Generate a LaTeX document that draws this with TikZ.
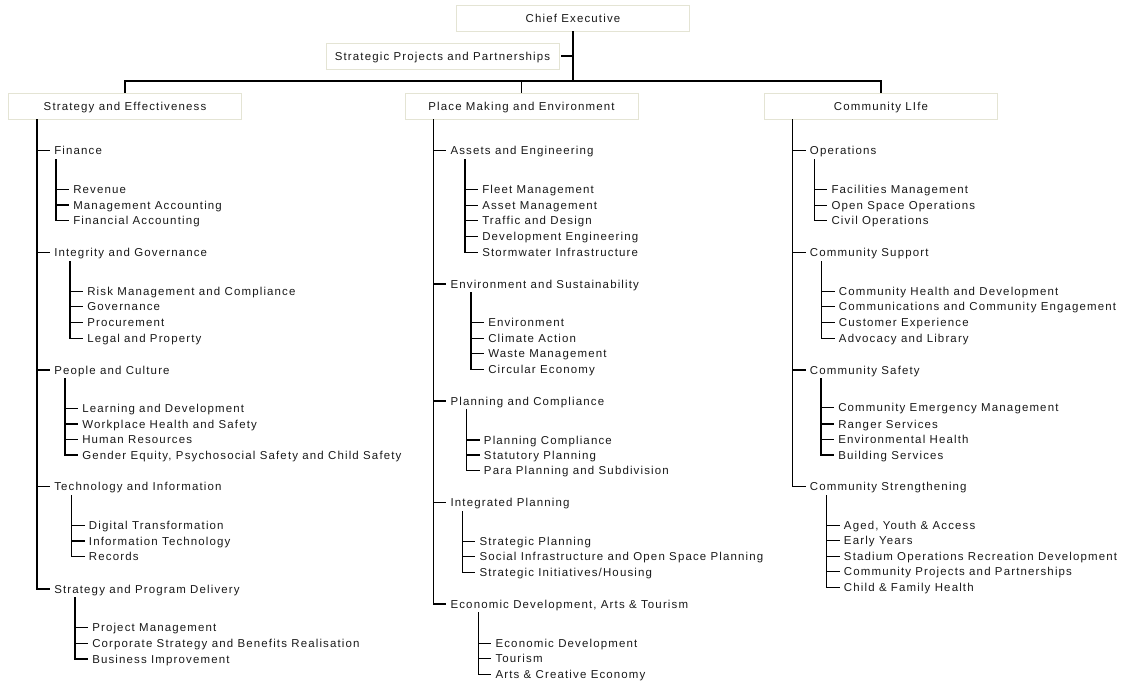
\documentclass[tikz,border=0pt]{standalone}
\usepackage{fontspec}
\usepackage{tikz}
\newfontfamily\orgfamily[LetterSpace=10]{Liberation Sans}
\newcommand{\orgfont}{\orgfamily\fontsize{8.6pt}{10pt}\selectfont}
\definecolor{boxline}{RGB}{228,228,212}
\definecolor{orgtext}{RGB}{25,25,25}
\tikzset{
	unitbox/.style={draw=boxline, line width=0.6pt, fill=white, minimum width=174.75pt, minimum height=19.5pt, inner sep=0pt, font=\orgfont, text=orgtext, text height=6.2pt, text depth=0pt},
	dept/.style={anchor=west, inner xsep=3pt, inner ysep=3pt, font=\orgfont, text=orgtext, text height=6.2pt, text depth=0pt},
	link/.style={line width=0.9pt}
}

\begin{document}
\begin{tikzpicture}[x=0.75pt,y=-0.75pt]
		\useasboundingbox (0,0) rectangle (1140,686);
		% Top of the chart
		\node[unitbox] (ce) at (573,18) {Chief Executive};
		\node[unitbox] (spp) at (442.5,56) {Strategic Projects and Partnerships};
		\node[unitbox] (se) at (125,106) {Strategy and Effectiveness};
		\node[unitbox] (pme) at (521.5,106) {Place Making and Environment};
		\node[unitbox] (cl) at (881,106) {Community LIfe};
		\coordinate (bar) at (573,81);
		\draw[link] (ce.south) -- (bar);
		\draw[link] ([xshift=1.5pt]spp.east) -- (spp.east -| bar);
		\draw[link] (se.north) |- (bar) -| (cl.north);
		\draw[link] (bar -| pme.north) -- (pme.north);
		% Strategy and Effectiveness
		\node[dept] (fin) at (50,150.7) {Finance};
		\node[dept] (fin1) at (69,189.3) {Revenue};
		\node[dept] (fin2) at (69,205) {Management Accounting};
		\node[dept] (fin3) at (69,220.7) {Financial Accounting};
		\node[dept] (ig) at (50,252.7) {Integrity and Governance};
		\node[dept] (ig1) at (83,291.5) {Risk Management and Compliance};
		\node[dept] (ig2) at (83,306.8) {Governance};
		\node[dept] (ig3) at (83,322.3) {Procurement};
		\node[dept] (ig4) at (83,338.3) {Legal and Property};
		\node[dept] (pc) at (50,370) {People and Culture};
		\node[dept] (pc1) at (78,408.3) {Learning and Development};
		\node[dept] (pc2) at (78,424) {Workplace Health and Safety};
		\node[dept] (pc3) at (78,439.7) {Human Resources};
		\node[dept] (pc4) at (78,455) {Gender Equity, Psychosocial Safety and Child Safety};
		\node[dept] (ti) at (50,486.7) {Technology and Information};
		\node[dept] (ti1) at (84.7,525.5) {Digital Transformation};
		\node[dept] (ti2) at (84.7,541) {Information Technology};
		\node[dept] (ti3) at (84.7,556.7) {Records};
		\node[dept] (spd) at (50,589) {Strategy and Program Delivery};
		\node[dept] (spd1) at (88,627.7) {Project Management};
		\node[dept] (spd2) at (88,643.3) {Corporate Strategy and Benefits Realisation};
		\node[dept] (spd3) at (88,659) {Business Improvement};
		\coordinate (se-s) at (37,0);
		\coordinate (fin-s) at (56,0);
		\coordinate (ig-s) at (70,0);
		\coordinate (pc-s) at (65,0);
		\coordinate (ti-s) at (71.7,0);
		\coordinate (spd-s) at (75,0);
		\draw[link] (se.south -| se-s) |- (spd.west) (fin.west -| se-s) -- (fin.west) (ig.west -| se-s) -- (ig.west) (pc.west -| se-s) -- (pc.west) (ti.west -| se-s) -- (ti.west);
		\draw[link] (fin.south -| fin-s) |- (fin3.west) (fin1.west -| fin-s) -- (fin1.west) (fin2.west -| fin-s) -- (fin2.west);
		\draw[link] (ig.south -| ig-s) |- (ig4.west) (ig1.west -| ig-s) -- (ig1.west) (ig2.west -| ig-s) -- (ig2.west) (ig3.west -| ig-s) -- (ig3.west);
		\draw[link] (pc.south -| pc-s) |- (pc4.west) (pc1.west -| pc-s) -- (pc1.west) (pc2.west -| pc-s) -- (pc2.west) (pc3.west -| pc-s) -- (pc3.west);
		\draw[link] (ti.south -| ti-s) |- (ti3.west) (ti1.west -| ti-s) -- (ti1.west) (ti2.west -| ti-s) -- (ti2.west);
		\draw[link] (spd.south -| spd-s) |- (spd3.west) (spd1.west -| spd-s) -- (spd1.west) (spd2.west -| spd-s) -- (spd2.west);
		% Place Making and Environment
		\node[dept] (ae) at (446.3,150.7) {Assets and Engineering};
		\node[dept] (ae1) at (478,189.3) {Fleet Management};
		\node[dept] (ae2) at (478,205.5) {Asset Management};
		\node[dept] (ae3) at (478,220.7) {Traffic and Design};
		\node[dept] (ae4) at (478,236.5) {Development Engineering};
		\node[dept] (ae5) at (478,252.3) {Stormwater Infrastructure};
		\node[dept] (es) at (446.3,284) {Environment and Sustainability};
		\node[dept] (es1) at (484,322.3) {Environment};
		\node[dept] (es2) at (484,338.3) {Climate Action};
		\node[dept] (es3) at (484,353.7) {Waste Management};
		\node[dept] (es4) at (484,369.7) {Circular Economy};
		\node[dept] (plc) at (446.3,401) {Planning and Compliance};
		\node[dept] (plc1) at (479.7,440) {Planning Compliance};
		\node[dept] (plc2) at (479.7,455) {Statutory Planning};
		\node[dept] (plc3) at (479.7,470.3) {Para Planning and Subdivision};
		\node[dept] (ip) at (446.3,502.7) {Integrated Planning};
		\node[dept] (ip1) at (475.3,541.3) {Strategic Planning};
		\node[dept] (ip2) at (475.3,556.7) {Social Infrastructure and Open Space Planning};
		\node[dept] (ip3) at (475.3,572.3) {Strategic Initiatives/Housing};
		\node[dept] (edat) at (446.3,604) {Economic Development, Arts \& Tourism};
		\node[dept] (edat1) at (491.3,643.3) {Economic Development};
		\node[dept] (edat2) at (491.3,658.7) {Tourism};
		\node[dept] (edat3) at (491.3,674.5) {Arts \& Creative Economy};
		\coordinate (pme-s) at (433.3,0);
		\coordinate (ae-s) at (465,0);
		\coordinate (es-s) at (471,0);
		\coordinate (plc-s) at (466.7,0);
		\coordinate (ip-s) at (462.3,0);
		\coordinate (edat-s) at (478.3,0);
		\draw[link] (pme.south -| pme-s) |- (edat.west) (ae.west -| pme-s) -- (ae.west) (es.west -| pme-s) -- (es.west) (plc.west -| pme-s) -- (plc.west) (ip.west -| pme-s) -- (ip.west);
		\draw[link] (ae.south -| ae-s) |- (ae5.west) (ae1.west -| ae-s) -- (ae1.west) (ae2.west -| ae-s) -- (ae2.west) (ae3.west -| ae-s) -- (ae3.west) (ae4.west -| ae-s) -- (ae4.west);
		\draw[link] (es.south -| es-s) |- (es4.west) (es1.west -| es-s) -- (es1.west) (es2.west -| es-s) -- (es2.west) (es3.west -| es-s) -- (es3.west);
		\draw[link] (plc.south -| plc-s) |- (plc3.west) (plc1.west -| plc-s) -- (plc1.west) (plc2.west -| plc-s) -- (plc2.west);
		\draw[link] (ip.south -| ip-s) |- (ip3.west) (ip1.west -| ip-s) -- (ip1.west) (ip2.west -| ip-s) -- (ip2.west);
		\draw[link] (edat.south -| edat-s) |- (edat3.west) (edat1.west -| edat-s) -- (edat1.west) (edat2.west -| edat-s) -- (edat2.west);
		% Community Life
		\node[dept] (ops) at (805.7,150.7) {Operations};
		\node[dept] (ops1) at (827.3,189.3) {Facilities Management};
		\node[dept] (ops2) at (827.3,205.5) {Open Space Operations};
		\node[dept] (ops3) at (827.3,220.7) {Civil Operations};
		\node[dept] (csup) at (805.7,252.7) {Community Support};
		\node[dept] (csup1) at (834.7,291.2) {Community Health and Development};
		\node[dept] (csup2) at (834.7,306.8) {Communications and Community Engagement};
		\node[dept] (csup3) at (834.7,322.3) {Customer Experience};
		\node[dept] (csup4) at (834.7,338.5) {Advocacy and Library};
		\node[dept] (csaf) at (805.7,370) {Community Safety};
		\node[dept] (csaf1) at (834,407.8) {Community Emergency Management};
		\node[dept] (csaf2) at (834,424) {Ranger Services};
		\node[dept] (csaf3) at (834,439.5) {Environmental Health};
		\node[dept] (csaf4) at (834,455) {Building Services};
		\node[dept] (cstr) at (805.7,486.7) {Community Strengthening};
		\node[dept] (cstr1) at (839.7,525.2) {Aged, Youth \& Access};
		\node[dept] (cstr2) at (839.7,540.8) {Early Years};
		\node[dept] (cstr3) at (839.7,556.3) {Stadium Operations Recreation Development};
		\node[dept] (cstr4) at (839.7,571.8) {Community Projects and Partnerships};
		\node[dept] (cstr5) at (839.7,587.7) {Child \& Family Health};
		\coordinate (cl-s) at (792.7,0);
		\coordinate (ops-s) at (814.3,0);
		\coordinate (csup-s) at (821.7,0);
		\coordinate (csaf-s) at (821,0);
		\coordinate (cstr-s) at (826.7,0);
		\draw[link] (cl.south -| cl-s) |- (cstr.west) (ops.west -| cl-s) -- (ops.west) (csup.west -| cl-s) -- (csup.west) (csaf.west -| cl-s) -- (csaf.west);
		\draw[link] (ops.south -| ops-s) |- (ops3.west) (ops1.west -| ops-s) -- (ops1.west) (ops2.west -| ops-s) -- (ops2.west);
		\draw[link] (csup.south -| csup-s) |- (csup4.west) (csup1.west -| csup-s) -- (csup1.west) (csup2.west -| csup-s) -- (csup2.west) (csup3.west -| csup-s) -- (csup3.west);
		\draw[link] (csaf.south -| csaf-s) |- (csaf4.west) (csaf1.west -| csaf-s) -- (csaf1.west) (csaf2.west -| csaf-s) -- (csaf2.west) (csaf3.west -| csaf-s) -- (csaf3.west);
		\draw[link] (cstr.south -| cstr-s) |- (cstr5.west) (cstr1.west -| cstr-s) -- (cstr1.west) (cstr2.west -| cstr-s) -- (cstr2.west) (cstr3.west -| cstr-s) -- (cstr3.west) (cstr4.west -| cstr-s) -- (cstr4.west);
	\end{tikzpicture}
\end{document}
